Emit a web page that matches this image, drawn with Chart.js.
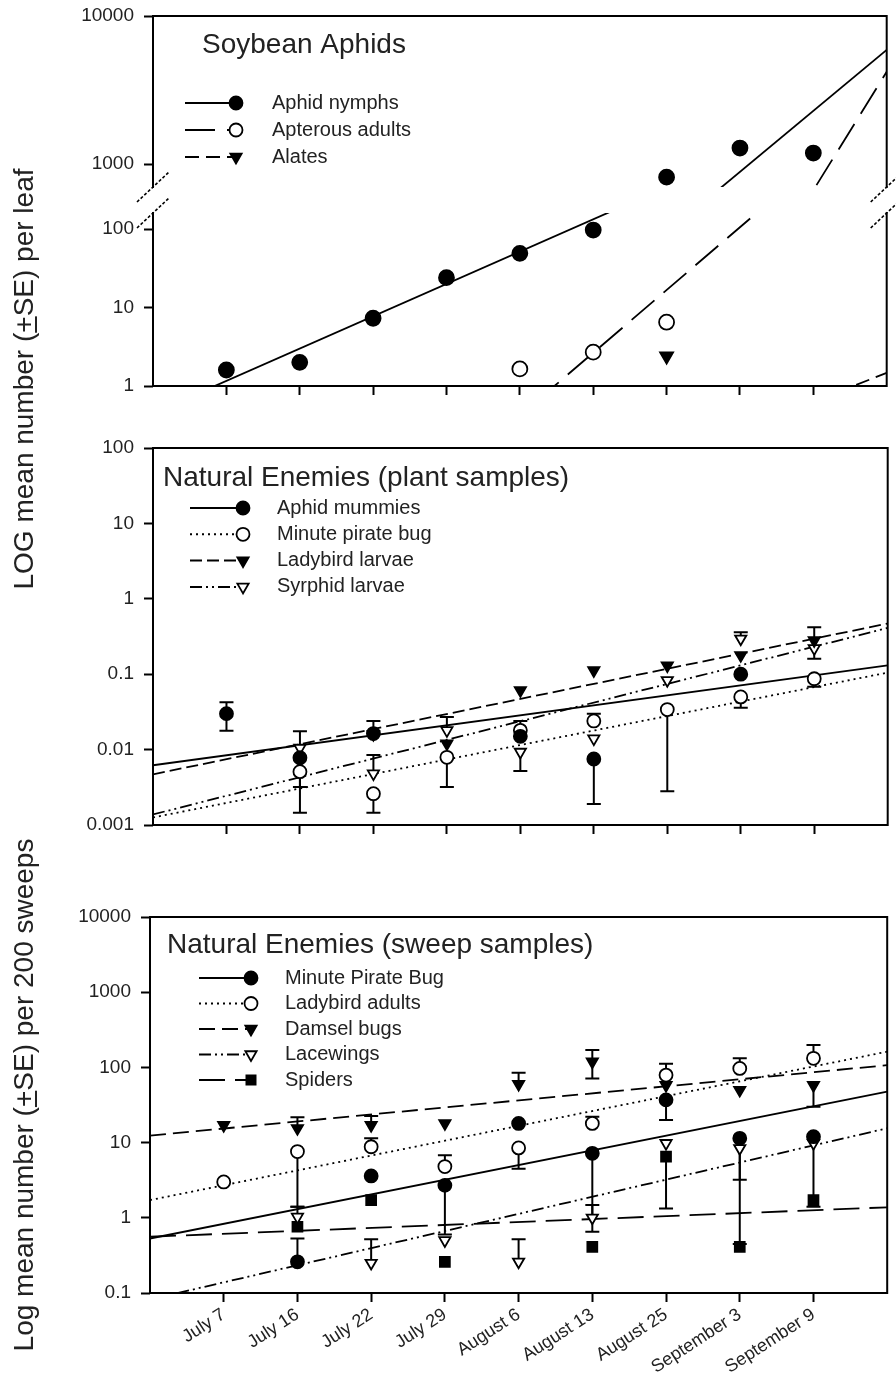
<!DOCTYPE html>
<html>
<head>
<meta charset="utf-8">
<script src="https://cdn.jsdelivr.net/npm/chart.js@4.4.1/dist/chart.umd.min.js"></script>
<style>
  html, body { margin: 0; padding: 0; background: #fff; }
  #page { position: relative; width: 896px; height: 1378px; overflow: hidden;
          font-family: 'Liberation Sans', Arial, Helvetica, sans-serif; }
  canvas { position: absolute; left: 0; }
  .ytitle { position: absolute; white-space: nowrap; font-size: 28px; color: #222;
            transform: translate(-50%, -50%) rotate(-90deg); }
</style>
</head>
<body>
<div id="page">
  <canvas id="aphidHigh" width="896" height="205" style="top:0px"></canvas>
  <canvas id="aphidLow" width="896" height="215" style="top:195px"></canvas>
  <canvas id="plant" width="896" height="425" style="top:420px"></canvas>
  <canvas id="sweep" width="896" height="488" style="top:890px"></canvas>
  <div class="ytitle" style="left:24px;top:379px">LOG mean number (<u>+</u>SE) per leaf</div>
  <div class="ytitle" style="left:24px;top:1095px">Log mean number (<u>+</u>SE) per 200 sweeps</div>
</div>
<script>
// sampling dates (evenly spaced on the axis)
const dates = ['July 7', 'July 16', 'July 22', 'July 29', 'August 6', 'August 13', 'August 25', 'September 3', 'September 9'];
const fitX = [-1, 9]; // regression lines run from edge to edge

// Soybean aphids, per leaf
const aphidNymphs    = [1.6, 2.0, 7.3, 24, 49, 97, 816, 1283, 1187];
const apterousAdults = [null, null, null, null, 1.65, 2.7, 6.5, null, null];
const alates         = [null, null, null, null, null, null, 2.4, null, null];
const nymphsFit   = [0.45, 5900];
const apterousFit = [0.000042, 4200];
const alatesFit   = [0.0003, 1.47];
const aphidTicksHigh = [1000, 10000];
const aphidTicksLow  = [1, 10, 100];

// Natural enemies, plant samples
const aphidMummies = [0.030, 0.0078, 0.0163, null, 0.015, 0.0075, null, 0.10, null];
const mummiesHi    = [0.0425, null, 0.024, null, null, null, null, null, null];
const mummiesLo    = [0.0178, null, null, null, null, 0.0019, null, null, null];
const plantMPB     = [null, 0.0051, 0.0026, 0.0079, 0.018, 0.024, 0.034, 0.050, 0.087];
const plantMPBHi   = [null, null, null, null, 0.024, 0.030, null, null, null];
const plantMPBLo   = [null, 0.00145, 0.00145, 0.0032, null, null, 0.0028, 0.036, 0.068];
const ladybirdLarvae = [null, 0.0072, 0.016, 0.012, 0.061, 0.112, 0.13, 0.178, 0.28];
const ladybirdHi     = [null, 0.0175, null, null, null, null, null, null, 0.42];
const syrphidLarvae  = [null, 0.0105, 0.0048, 0.018, 0.0093, 0.014, 0.083, 0.295, 0.22];
const syrphidHi      = [null, null, 0.0085, 0.027, null, null, null, 0.36, null];
const syrphidLo      = [null, 0.0032, null, null, 0.0052, null, null, null, 0.16];
const mummiesFit  = [0.0062, 0.131];
const plantMPBFit = [0.00126, 0.105];
const ladybirdFit = [0.0047, 0.47];
const syrphidFit  = [0.00138, 0.41];
const plantTicks = [0.001, 0.01, 0.1, 1, 10, 100];

// Natural enemies, sweep samples (per 200 sweeps)
const sweepMPB     = [null, 0.26, 3.6, 2.7, 18, 7.2, 37, 11.4, 12];
const sweepMPBHi   = [null, 0.53, null, null, null, null, null, null, null];
const sweepMPBLo   = [null, null, null, 0.6, null, 0.65, 20, 0.45, null];
const ladybirdAdults = [3.0, 7.6, 8.8, 4.8, 8.5, 18, 79, 97, 132];
const ladybirdAdHi   = [null, null, 11.4, 6.8, null, 22, null, 132, 199];
const ladybirdAdLo   = [null, 1.4, null, null, 4.5, null, null, null, null];
const damselBugs   = [17, 15.5, 17, 18, 60, 119, 58, 50, 58];
const damselHi     = [null, 21.7, 22.6, null, 85, 171, 112, null, null];
const damselLo     = [null, null, null, null, null, 71, null, null, 30];
const lacewings    = [null, 1.03, 0.25, 0.5, 0.26, 1.0, 9.8, 8.4, 9.8];
const lacewingHi   = [null, 1.4, 0.52, null, 0.52, 1.48, null, null, null];
const lacewingLo   = [null, null, null, null, null, null, null, 3.2, 1.4];
const spiders      = [null, 0.76, 1.72, 0.26, null, 0.41, 6.5, 0.41, 1.72];
const spidersLo    = [null, null, null, null, null, null, 1.33, null, null];
const sweepMPBFit  = [0.53, 47.5];
const ladybirdAdFit = [1.72, 162];
const damselFit    = [12.4, 107];
const lacewingFit  = [0.082, 15.5];
const spidersFit   = [0.56, 1.38];
const sweepTicks = [0.1, 1, 10, 100, 1000, 10000];

const family = "'Liberation Sans', Arial, Helvetica, sans-serif";
Chart.defaults.font.family = family;
Chart.defaults.color = '#222';

const markers = {
  filledCircle:   { style: 'circle',   rot: 0,   fill: '#000' },
  openCircle:     { style: 'circle',   rot: 0,   fill: '#fff' },
  filledTriangle: { style: 'triangle', rot: 180, fill: '#000' },
  openTriangle:   { style: 'triangle', rot: 180, fill: '#fff' },
  filledSquare:   { style: 'rect',     rot: 0,   fill: '#000' }
};

function series(label, values, fit, marker, dash, radius, hi, lo) {
  const m = markers[marker];
  const pts = values.map((v, i) => (v == null ? null : { x: i, y: v })).filter(Boolean);
  return [
    {
      label: label, data: pts, showLine: false, order: 0,
      pointStyle: m.style, pointRotation: m.rot, pointRadius: radius,
      pointBackgroundColor: m.fill, pointBorderColor: '#000', pointBorderWidth: 1.8,
      values: values, errHi: hi, errLo: lo, legendDash: dash
    },
    {
      label: label + ' fit', data: fitX.map((x, i) => ({ x: x, y: fit[i] })),
      borderColor: '#000', borderWidth: 1.8, borderDash: dash, pointRadius: 0, order: 1
    }
  ];
}

// box around the plot area, plus the axis-break slashes
const framePlugin = {
  id: 'frame',
  afterDraw(chart, args, o) {
    const { ctx, chartArea: a } = chart;
    const sides = o.sides || 'ltrb';
    ctx.save();
    ctx.strokeStyle = '#000';
    ctx.lineWidth = 2;
    ctx.beginPath();
    if (sides.includes('l')) { ctx.moveTo(a.left, a.top - 1); ctx.lineTo(a.left, a.bottom + 1); }
    if (sides.includes('r')) { ctx.moveTo(a.right, a.top - 1); ctx.lineTo(a.right, a.bottom + 1); }
    if (sides.includes('t')) { ctx.moveTo(a.left, a.top); ctx.lineTo(a.right, a.top); }
    if (sides.includes('b')) { ctx.moveTo(a.left, a.bottom); ctx.lineTo(a.right, a.bottom); }
    ctx.stroke();
    if (o.brk) {
      const y = o.brk === 'bottom' ? a.bottom : a.top;
      ctx.lineWidth = 1.6;
      ctx.setLineDash([3, 2]);
      ctx.beginPath();
      [a.left, a.right].forEach(x => { ctx.moveTo(x - 16, y + 15); ctx.lineTo(x + 16, y - 15); });
      ctx.stroke();
    }
    ctx.restore();
  }
};

// +/- SE bars, drawn under the markers
const errorBarPlugin = {
  id: 'errorBars',
  beforeDatasetsDraw(chart) {
    const { ctx, chartArea: a, scales } = chart;
    ctx.save();
    ctx.beginPath();
    ctx.rect(a.left, a.top, a.right - a.left, a.bottom - a.top);
    ctx.clip();
    ctx.strokeStyle = '#000';
    ctx.lineWidth = 2;
    chart.data.datasets.forEach(ds => {
      [ds.errHi, ds.errLo].forEach(arr => {
        if (!arr) return;
        arr.forEach((v, i) => {
          if (v == null || ds.values[i] == null) return;
          const px = scales.x.getPixelForValue(i);
          const y0 = scales.y.getPixelForValue(ds.values[i]);
          const y1 = scales.y.getPixelForValue(v);
          ctx.beginPath();
          ctx.moveTo(px, y0); ctx.lineTo(px, y1);
          ctx.moveTo(px - 7, y1); ctx.lineTo(px + 7, y1);
          ctx.stroke();
        });
      });
    });
    ctx.restore();
  }
};

// legend drawn inside the plot, with line sample and marker
const panelLegendPlugin = {
  id: 'panelLegend',
  afterDatasetsDraw(chart, args, o) {
    if (!o || !o.title) return;
    const ctx = chart.ctx;
    ctx.save();
    ctx.textBaseline = 'middle';
    ctx.fillStyle = '#222';
    ctx.font = '28px ' + family;
    ctx.fillText(o.title, o.titleX, o.titleY);
    const items = chart.data.datasets.filter(d => d.legendDash);
    items.forEach((d, k) => {
      const y = o.rowY + k * o.rowH;
      ctx.strokeStyle = '#000';
      ctx.lineWidth = 2;
      ctx.setLineDash(d.legendDash);
      ctx.beginPath();
      ctx.moveTo(o.lineX0, y); ctx.lineTo(o.lineX1, y);
      ctx.stroke();
      ctx.setLineDash([]);
      ctx.fillStyle = d.pointBackgroundColor;
      ctx.lineWidth = 1.8;
      Chart.helpers.drawPoint(ctx, { pointStyle: d.pointStyle, rotation: d.pointRotation, radius: 6.5, borderWidth: 1.8 }, o.lineX1, y);
      ctx.fillStyle = '#222';
      ctx.font = '20px ' + family;
      ctx.fillText(d.label, o.textX, y);
    });
    ctx.restore();
  }
};

function xAxis(show, height, labels) {
  return {
    type: 'linear', min: -1, max: 9, display: show,
    afterBuildTicks: s => { s.ticks = dates.map((d, i) => ({ value: i })); },
    afterFit: s => { s.height = height; s.paddingLeft = 0; s.paddingRight = 0; },
    grid: { drawOnChartArea: false, drawTicks: true, tickLength: 9, tickWidth: 2, tickColor: '#000' },
    border: { display: false },
    ticks: {
      display: labels, autoSkip: false, minRotation: 33, maxRotation: 33, padding: 2,
      font: { size: 18 }, color: '#222', callback: v => dates[v]
    }
  };
}

function yAxis(min, max, tickVals, width) {
  return {
    type: 'logarithmic', min: min, max: max,
    afterBuildTicks: s => { s.ticks = tickVals.map(v => ({ value: v })); },
    afterFit: s => { s.width = width; s.paddingTop = 0; s.paddingBottom = 0; },
    grid: { drawOnChartArea: false, tickLength: 9, tickWidth: 2, tickColor: '#000' },
    border: { display: false },
    ticks: { padding: 10, font: { size: 19 }, color: '#222', callback: v => String(v) }
  };
}

function makeChart(id, datasets, x, y, padding, pluginOpts) {
  return new Chart(document.getElementById(id), {
    type: 'line',
    data: { datasets: datasets },
    options: {
      responsive: false, animation: false, devicePixelRatio: 1, events: [],
      layout: { padding: padding },
      scales: { x: x, y: y },
      plugins: Object.assign({ legend: { display: false }, tooltip: { enabled: false } }, pluginOpts)
    },
    plugins: [errorBarPlugin, framePlugin, panelLegendPlugin]
  });
}

function aphidSets() {
  return [
    ...series('Aphid nymphs', aphidNymphs, nymphsFit, 'filledCircle', [], 7.5),
    ...series('Apterous adults', apterousAdults, apterousFit, 'openCircle', [30, 12], 7.5),
    ...series('Alates', alates, alatesFit, 'filledTriangle', [14, 7], 7.5)
  ];
}

// top panel, upper part of the broken axis
makeChart('aphidHigh', aphidSets(), xAxis(false, 0, false), yAxis(700, 10000, aphidTicksHigh, 153),
  { top: 16, bottom: 18, left: 0, right: 4 },
  {
    frame: { sides: 'ltr', brk: 'bottom' },
    panelLegend: { title: 'Soybean Aphids', titleX: 202, titleY: 45, rowY: 103, rowH: 27, lineX0: 185, lineX1: 236, textX: 272 }
  });

// top panel, lower part of the broken axis
makeChart('aphidLow', aphidSets(), xAxis(true, 10, false), yAxis(1, 160, aphidTicksLow, 153),
  { top: 18, bottom: 14, left: 0, right: 4 },
  { frame: { sides: 'lrb', brk: 'top' } });

// middle panel
makeChart('plant', [
    ...series('Aphid mummies', aphidMummies, mummiesFit, 'filledCircle', [], 6.5, mummiesHi, mummiesLo),
    ...series('Minute pirate bug', plantMPB, plantMPBFit, 'openCircle', [2, 4], 6.5, plantMPBHi, plantMPBLo),
    ...series('Ladybird larvae', ladybirdLarvae, ladybirdFit, 'filledTriangle', [12, 5], 6.5, ladybirdHi, null),
    ...series('Syrphid larvae', syrphidLarvae, syrphidFit, 'openTriangle', [12, 4, 2, 4, 2, 4], 6.5, syrphidHi, syrphidLo)
  ], xAxis(true, 10, false), yAxis(0.001, 100, plantTicks, 153),
  { top: 28, bottom: 10, left: 0, right: 5 },
  {
    frame: { sides: 'ltrb' },
    panelLegend: { title: 'Natural Enemies (plant samples)', titleX: 163, titleY: 58, rowY: 88, rowH: 26.3, lineX0: 190, lineX1: 243, textX: 277 }
  });

// bottom panel
makeChart('sweep', [
    ...series('Minute Pirate Bug', sweepMPB, sweepMPBFit, 'filledCircle', [], 6.5, sweepMPBHi, sweepMPBLo),
    ...series('Ladybird adults', ladybirdAdults, ladybirdAdFit, 'openCircle', [2, 4], 6.5, ladybirdAdHi, ladybirdAdLo),
    ...series('Damsel bugs', damselBugs, damselFit, 'filledTriangle', [16, 7], 6.5, damselHi, damselLo),
    ...series('Lacewings', lacewings, lacewingFit, 'openTriangle', [12, 4, 2, 4, 2, 4], 6.5, lacewingHi, lacewingLo),
    ...series('Spiders', spiders, spidersFit, 'filledSquare', [26, 10], 7, null, spidersLo)
  ], xAxis(true, 85, true), yAxis(0.1, 10000, sweepTicks, 150),
  { top: 27, bottom: 0, left: 0, right: 8 },
  {
    frame: { sides: 'ltrb' },
    panelLegend: { title: 'Natural Enemies (sweep samples)', titleX: 167, titleY: 55, rowY: 88, rowH: 25.5, lineX0: 199, lineX1: 251, textX: 285 }
  });
</script>
</body>
</html>
